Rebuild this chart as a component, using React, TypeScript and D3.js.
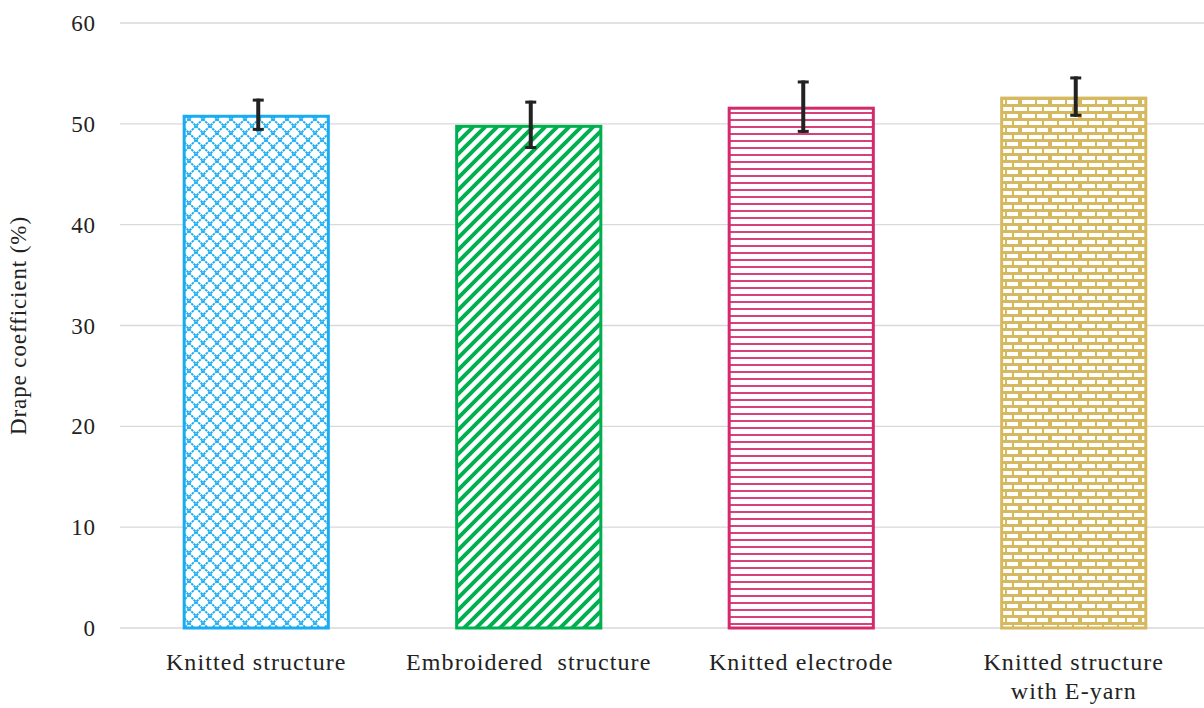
import React from "react";
import * as d3 from "d3";

const categories = ["Knitted structure", "Embroidered  structure", "Knitted electrode", "Knitted structure|with E-yarn"];
const values = [50.9, 49.9, 51.7, 52.7];
const errors = [1.6, 2.4, 2.6, 2.0];
const yTicks = [0, 10, 20, 30, 40, 50, 60];
const colors = ["#1AABF2", "#00B050", "#D42A6C", "#D6B85E"];
const patternIds = ["pCross", "pDiag", "pHoriz", "pBrick"];

const W = 1204;
const H = 708;
const FONT = "'Liberation Serif', 'Times New Roman', serif";
const FS = 23;
const LS = 0.9;

export default function App() {
  const x = d3.scaleBand<string>().domain(categories).range([120, 1210]).paddingInner(0.46).paddingOuter(0.23);
  const y = d3.scaleLinear().domain([0, 60]).range([628, 23]);

  return (
    <svg width={W} height={H} style={{ position: "absolute", left: 0, top: 0, background: "#fff" }}>
      <defs>
        <pattern id="pCross" width={14} height={14} patternUnits="userSpaceOnUse">
          <path d="M0,0 L14,14 M14,0 L0,14 M-7,7 L7,-7 M7,21 L21,7 M-7,7 L7,21 M7,-7 L21,7" stroke={colors[0]} strokeWidth={2} strokeDasharray="2.5,0.8" fill="none" />
        </pattern>
        <pattern id="pDiag" width={12} height={12} patternUnits="userSpaceOnUse">
          <path d="M-3,3 L3,-3 M0,12 L12,0 M9,15 L15,9" stroke={colors[1]} strokeWidth={4} fill="none" />
        </pattern>
        <pattern id="pHoriz" width={10} height={7} patternUnits="userSpaceOnUse">
          <line x1={0} x2={10} y1={1} y2={1} stroke={colors[2]} strokeWidth={1.8} />
        </pattern>
        <pattern id="pBrick" width={30} height={14} patternUnits="userSpaceOnUse">
          <rect x={0} y={0} width={30} height={14} fill={colors[3]} />
          <rect x={2} y={2} width={13} height={4} fill="#fff" />
          <rect x={17} y={2} width={11} height={4} fill="#fff" />
          <rect x={-6} y={9} width={13} height={4} fill="#fff" />
          <rect x={9} y={9} width={13} height={4} fill="#fff" />
          <rect x={24} y={9} width={13} height={4} fill="#fff" />
        </pattern>
      </defs>

      {yTicks.map((t) => (
        <g key={t}>
          <line x1={120} x2={W} y1={y(t)} y2={y(t)} stroke="#d9d9d9" strokeWidth={1.3} />
          <text x={96} y={y(t)} dy="0.35em" textAnchor="end" fontFamily={FONT} fontSize={FS} fill="#222" letterSpacing={LS}>
            {t}
          </text>
        </g>
      ))}

      <text
        transform={`translate(26,${y(30)}) rotate(-90)`}
        textAnchor="middle"
        fontFamily={FONT}
        fontSize={FS}
        fill="#222"
        letterSpacing={LS}
      >
        Drape coefficient (%)
      </text>

      {categories.map((c, i) => {
        const bx = x(c)!;
        const bw = x.bandwidth();
        const top = y(values[i]);
        const cx = bx + bw / 2 + 2;
        const e1 = y(values[i] + errors[i]);
        const e2 = y(values[i] - errors[i]);
        const lines = c.split("|");
        return (
          <g key={c}>
            <rect x={bx + 1.5} y={top + 1.5} width={bw - 3} height={y(0) - top - 1.5} fill="#fff" />
            <rect
              x={bx + 1.5}
              y={top + 1.5}
              width={bw - 3}
              height={y(0) - top - 1.5}
              fill={`url(#${patternIds[i]})`}
              stroke={colors[i]}
              strokeWidth={3}
            />
            <line x1={cx} x2={cx} y1={e1} y2={e2} stroke="#222" strokeWidth={4} />
            <line x1={cx - 5.5} x2={cx + 5.5} y1={e1 + 1.5} y2={e1 + 1.5} stroke="#222" strokeWidth={3} />
            <line x1={cx - 5.5} x2={cx + 5.5} y1={e2 - 1.5} y2={e2 - 1.5} stroke="#222" strokeWidth={3} />
            {lines.map((l, k) => (
              <text
                key={k}
                x={bx + bw / 2}
                y={670 + k * 29}
                textAnchor="middle"
                fontFamily={FONT}
                fontSize={24}
                fill="#222"
                letterSpacing={1.1}
                style={{ whiteSpace: "pre" }}
              >
                {l}
              </text>
            ))}
          </g>
        );
      })}
    </svg>
  );
}
